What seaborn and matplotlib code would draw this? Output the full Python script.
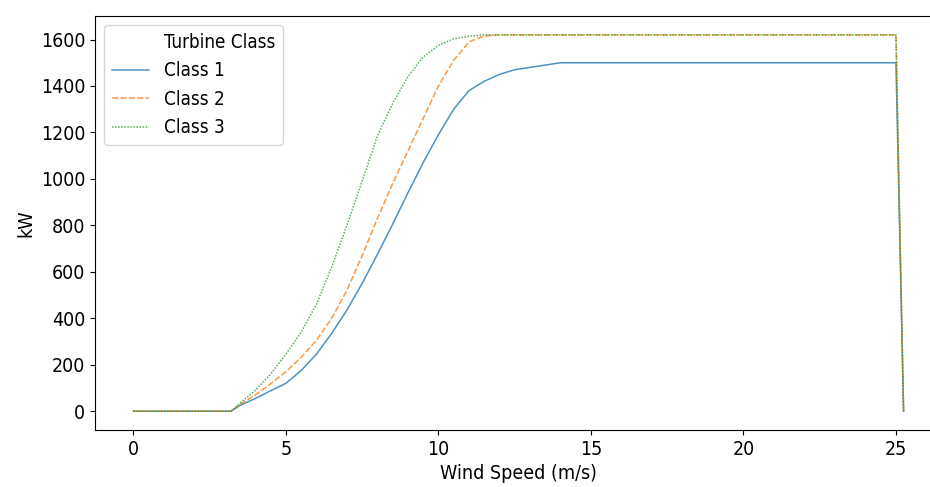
import numpy as np
import pandas as pd
import matplotlib
matplotlib.use("Agg")
import matplotlib.pyplot as plt
from matplotlib.lines import Line2D
import seaborn as sns

# Power curves
wind_speed = [0.0, 0.5, 1.0, 1.5, 2.0, 2.5, 3.0, 3.2, 3.5, 4.0, 4.5, 5.0, 5.5,
              6.0, 6.5, 7.0, 7.5, 8.0, 8.5, 9.0, 9.5, 10.0, 10.5, 11.0, 11.5,
              12.0, 12.5, 13.0, 13.5, 14.0, 15.0, 16.0, 17.0, 18.0, 19.0,
              20.0, 21.0, 22.0, 23.0, 24.0, 25.0, 25.25]
class_1 = [0, 0, 0, 0, 0, 0, 0, 0, 25, 55, 88, 120, 175,
           245, 335, 435, 550, 675, 805, 940, 1070, 1190, 1300, 1380, 1420,
           1450, 1470, 1480, 1490, 1500, 1500, 1500, 1500, 1500, 1500,
           1500, 1500, 1500, 1500, 1500, 1500, 0]
class_2 = [0, 0, 0, 0, 0, 0, 0, 0, 30, 70, 118, 170, 232,
           305, 400, 520, 670, 830, 980, 1120, 1260, 1400, 1510, 1590, 1615,
           1620, 1620, 1620, 1620, 1620, 1620, 1620, 1620, 1620, 1620,
           1620, 1620, 1620, 1620, 1620, 1620, 0]
class_3 = [0, 0, 0, 0, 0, 0, 0, 0, 35, 90, 160, 245, 340,
           460, 620, 800, 990, 1185, 1325, 1440, 1525, 1575, 1603, 1614, 1620,
           1620, 1620, 1620, 1620, 1620, 1620, 1620, 1620, 1620, 1620,
           1620, 1620, 1620, 1620, 1620, 1620, 0]
class_names = ["Class 1", "Class 2", "Class 3"]

frames = []
for name, values in zip(class_names, [class_1, class_2, class_3]):
    frames.append(pd.DataFrame({"Wind Speed (m/s)": wind_speed,
                                "kW": values,
                                "Turbine Class": name}))
df = pd.concat(frames, ignore_index=True)

plt.style.use("default")
plt.rcParams["font.family"] = ["DejaVu Sans"]
plt.rcParams["font.stretch"] = "condensed"
plt.rcParams["font.size"] = 14
plt.rcParams["legend.fontsize"] = 13.5

fig, ax = plt.subplots(figsize=(9.3, 4.87), dpi=100)
fig.subplots_adjust(left=0.102, right=1.013, top=0.967, bottom=0.117)

sns.lineplot(data=df, x="Wind Speed (m/s)", y="kW", hue="Turbine Class",
             style="Turbine Class", palette="tab10", linewidth=1.1,
             alpha=0.8, ax=ax)

# old-style seaborn legend: title shown as a blank-handle entry
handles, labels = ax.get_legend_handles_labels()
blank = Line2D([], [], color="none")
ax.legend(handles=[blank] + handles, labels=["Turbine Class"] + labels,
          loc="upper left")

ax.set_xlabel("Wind Speed (m/s)")
ax.set_ylabel("kW")

plt.savefig("out.png", dpi=100)
